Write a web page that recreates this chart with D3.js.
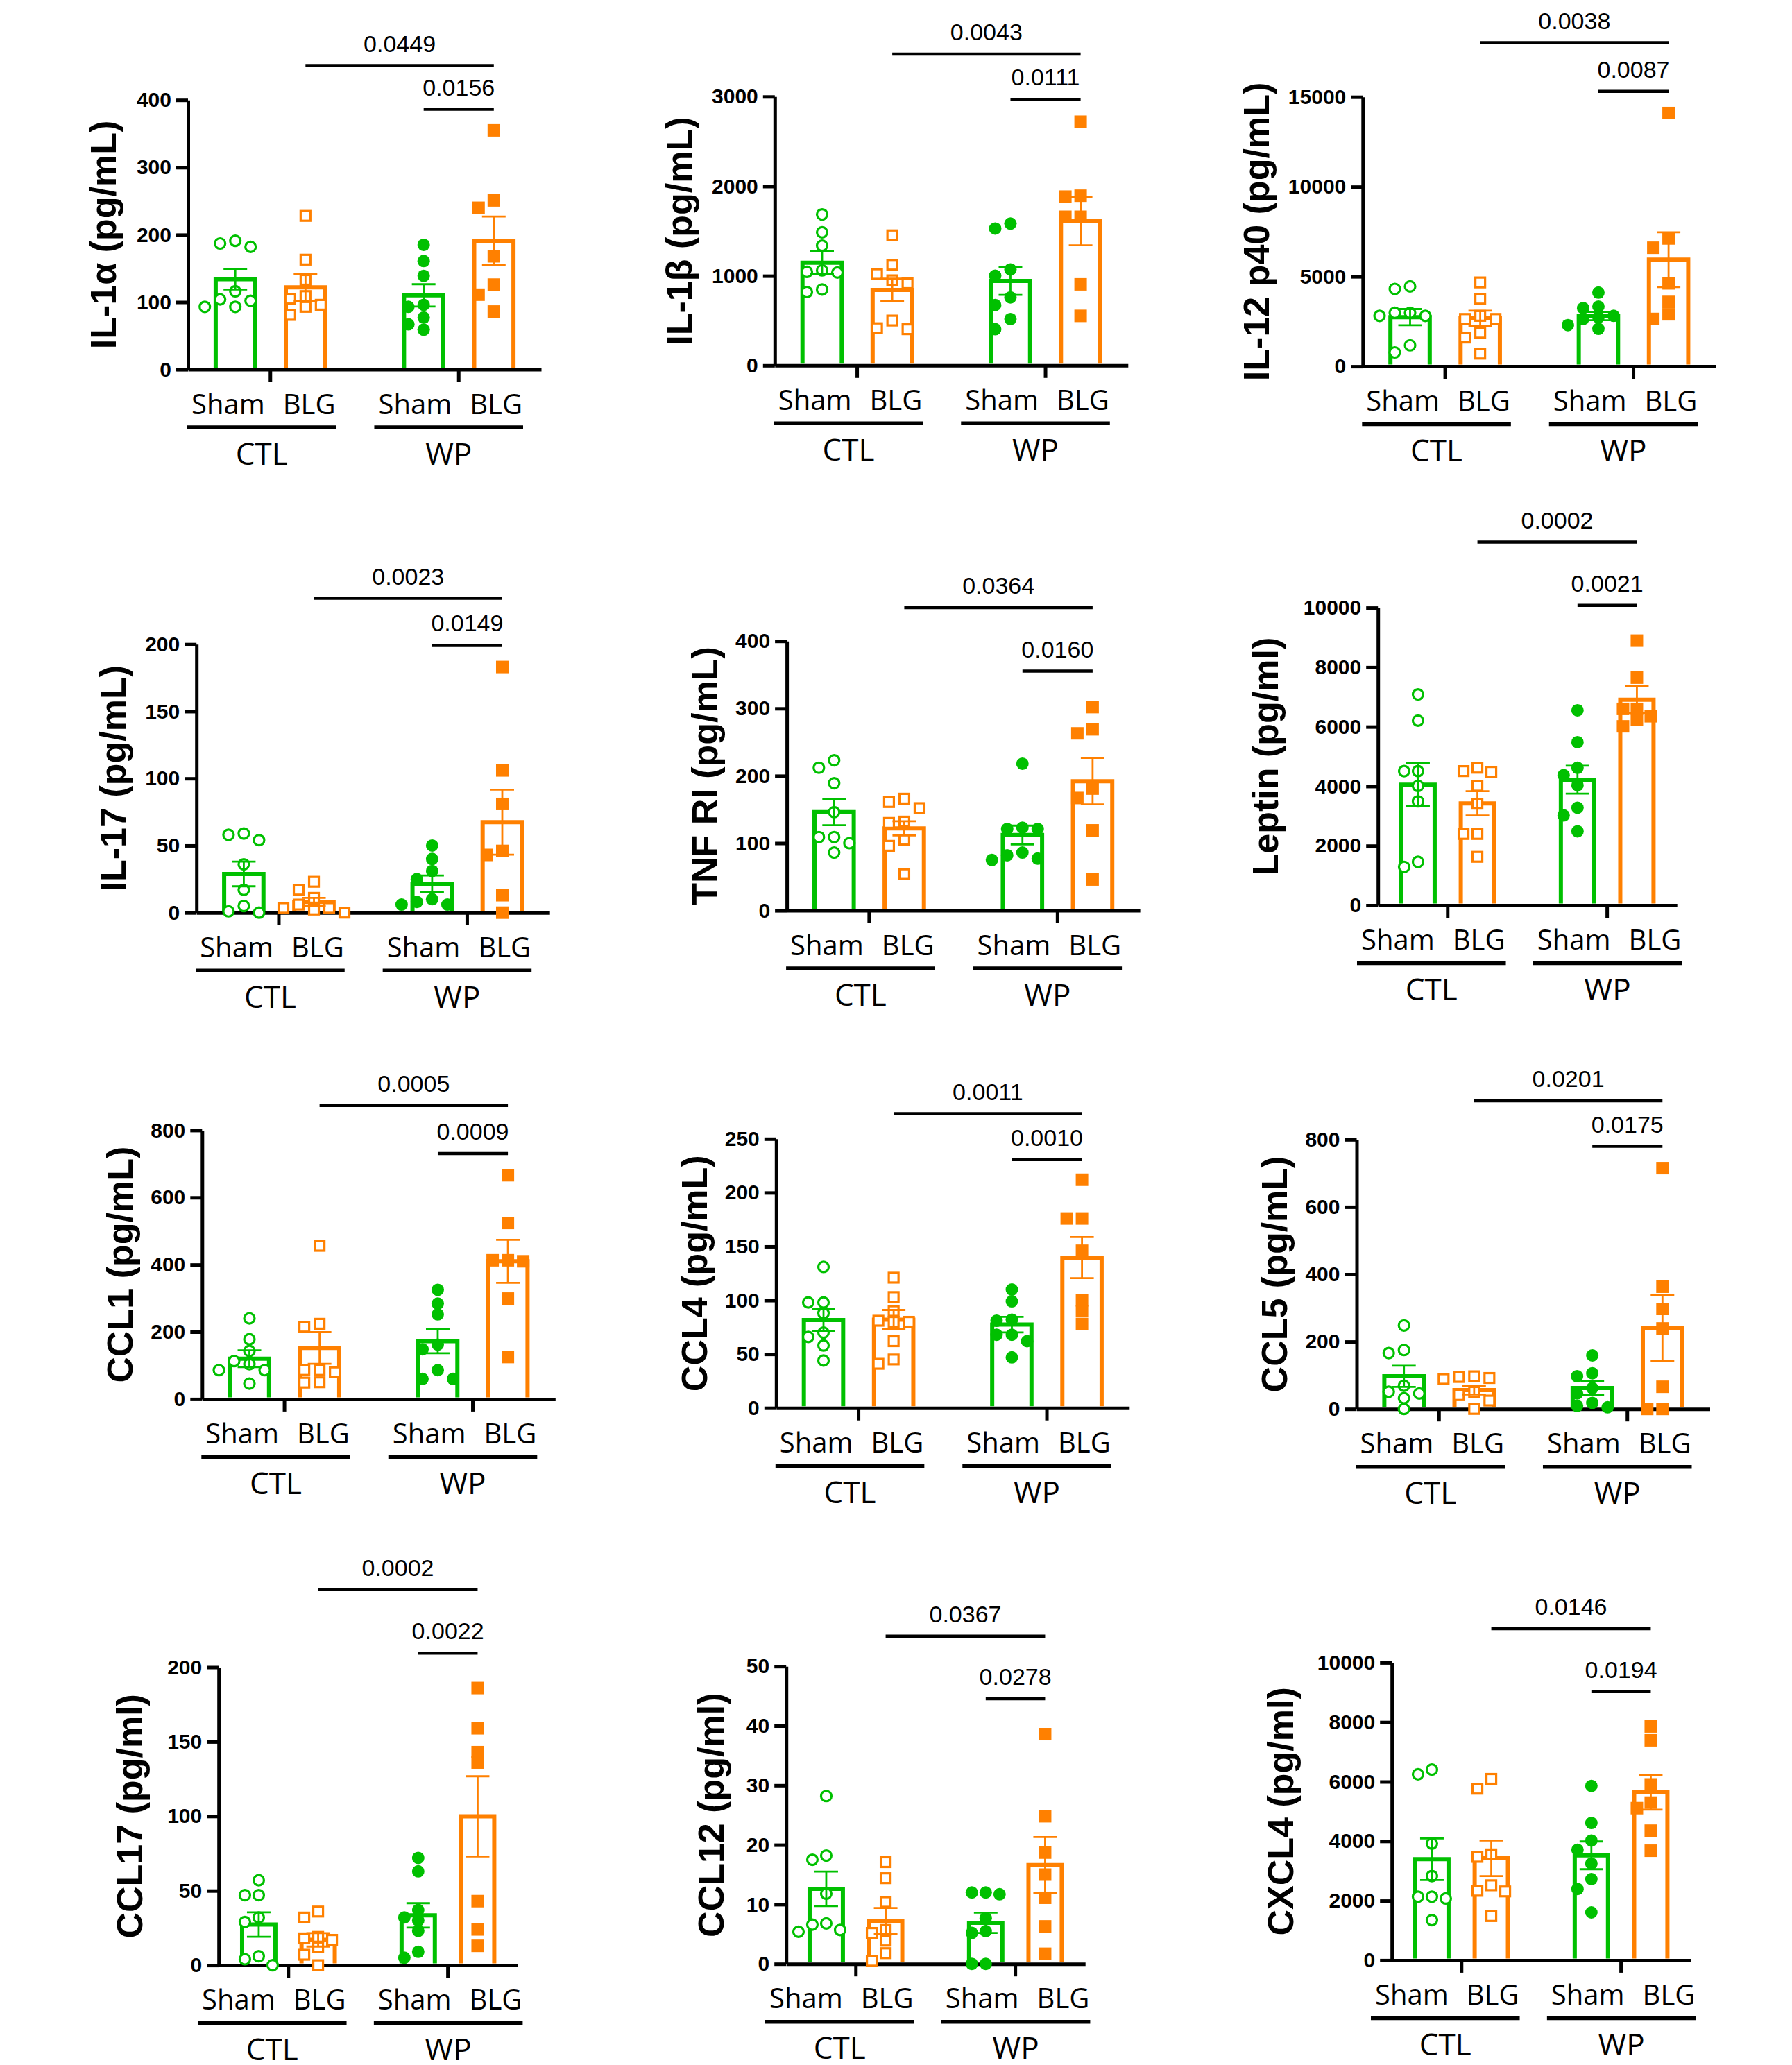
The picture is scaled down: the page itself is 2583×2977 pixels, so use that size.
<!DOCTYPE html>
<html>
<head>
<meta charset="utf-8">
<script src="https://cdn.jsdelivr.net/npm/d3@7"></script>
<style>
  body { margin: 0; background: #fff; }
</style>
</head>
<body>
<div id="chart"></div>
<script>
// ---- data ----
const titles = ["IL-1α (pg/mL)", "IL-1β (pg/mL)", "IL-12 p40 (pg/mL)",
  "IL-17 (pg/mL)", "TNF RI (pg/mL)", "Leptin (pg/ml)",
  "CCL1 (pg/mL)", "CCL4 (pg/mL)", "CCL5 (pg/mL)",
  "CCL17 (pg/ml)", "CCL12 (pg/ml)", "CXCL4 (pg/ml)"];

const yTicks = [
  [0, 100, 200, 300, 400], [0, 1000, 2000, 3000], [0, 5000, 10000, 15000],
  [0, 50, 100, 150, 200], [0, 100, 200, 300, 400], [0, 2000, 4000, 6000, 8000, 10000],
  [0, 200, 400, 600, 800], [0, 50, 100, 150, 200, 250], [0, 200, 400, 600, 800],
  [0, 50, 100, 150, 200], [0, 10, 20, 30, 40, 50], [0, 2000, 4000, 6000, 8000, 10000]];

const treatments = ["Sham", "BLG"];
const cohorts = ["CTL", "WP"];

// individual animals per panel
const shamCTL = [
  [182, 187, 191, 116, 104, 102, 93, 93],
  [1686, 1486, 1337, 1044, 1061, 1037, 819, 847],
  [4310, 4448, 2810, 2810, 2983, 2983, 1172, 776],
  [59, 54, 58, 36, 17, 5, 0, 1],
  [212, 223, 189, 146, 109, 109, 100, 86],
  [7085, 6204, 4509, 4509, 4011, 3492, 1288, 1458],
  [240, 178, 143, 113, 104, 86, 86, 46],
  [131, 98, 98, 88, 70, 66, 58, 44],
  [248, 166, 175, 51, 46, 69, 32, 0],
  [57, 47, 47, 32, 29, 6, 4, 0],
  [28.2, 18.2, 17.5, 11.8, 6.8, 6.6, 5.4, 5.7],
  [6249, 6404, 3917, 2829, 2135, 2073, 2135, 1347]];

const blgCTL = [
  [228, 163, 133, 109, 105, 96, 93, 81],
  [1452, 1123, 1020, 950, 916, 501, 404, 415],
  [4672, 3758, 2810, 2638, 2638, 1862, 1603, 707],
  [23, 17, 11, 6, 3.5, 2.3, 3.5, 0],
  [166, 152, 161, 132, 130, 105, 96, 54],
  [4622, 4509, 4486, 4011, 3413, 2396, 2396, 1627],
  [456, 224, 215, 86, 86, 49, 80, 50],
  [121, 103, 90, 80, 81, 80, 62, 41, 45],
  [97, 89, 95, 92, 51, 41, 25, 0],
  [36, 32, 17, 18, 19, 7, 0, 12],
  [17.1, 14.4, 10.4, 5.7, 5.2, 3.9, 1.8, 0.5],
  [6093, 5762, 3555, 3472, 2518, 2311, 2332, 1482]];

const shamWP = [
  [185, 161, 139, 96, 93, 77, 67, 59],
  [1583, 1528, 1071, 1002, 760, 674, 518, 404],
  [4103, 3327, 3241, 2724, 2810, 2293, 2638, 2086],
  [50, 40, 31, 25, 6, 10, 6, 8],
  [218, 121, 123, 121, 75, 86, 77, 82],
  [6554, 5481, 4622, 4373, 4034, 3277, 3017, 2486],
  [325, 284, 252, 162, 148, 86, 60, 60],
  [110, 99, 81, 82, 68, 68, 62, 47],
  [159, 97, 106, 62, 5, 18, 46, 9],
  [72, 63, 37, 32, 30, 23, 9, 5],
  [12, 11.7, 12, 7.7, 5.5, 5.2, 0, 0],
  [5855, 4612, 3710, 4021, 3244, 2725, 2394, 1606]];

const blgWP = [
  [355, 240, 251, 168, 126, 111, 86],
  [2720, 1884, 1894, 1659, 1659, 905, 553],
  [14102, 6603, 7120, 4620, 3586, 2638, 2896],
  [183, 106, 81, 43, 46, 13, 0],
  [302, 263, 269, 181, 167, 119, 46],
  [8893, 7650, 6600, 6600, 6351, 6012, 6238],
  [666, 524, 413, 413, 410, 299, 125],
  [212, 176, 176, 146, 100, 90, 78],
  [715, 363, 297, 239, 66, 0, 0],
  [186, 159, 143, 136, 43, 24, 13],
  [38.6, 24.8, 18.7, 15, 11.1, 6.3, 1.7],
  [7855, 7389, 5907, 5109, 5296, 4352, 3679]];

// bar heights (mean) and error bars (SEM): Sham CTL, BLG CTL, Sham WP, BLG WP
const barMean = [
  [134, 122, 110, 191], [1146, 842, 943, 1612], [2740, 2680, 2800, 5939],
  [28.8, 8, 21.6, 67.4], [146, 122, 112, 192], [4050, 3424, 4221, 6906],
  [120, 152, 172, 410], [81.7, 82, 77.4, 139.7], [97, 56, 62, 240],
  [27.3, 17, 33.4, 99.9], [12.6, 7.2, 6.9, 16.6], [3394, 3425, 3523, 5637]];
const barSEM = [
  [15.4, 20, 16.5, 36], [126, 126, 156, 271], [450, 420, 230, 1526],
  [9.2, 3, 6.1, 24.2], [19.3, 10.5, 14, 34.5], [718, 407, 469, 452],
  [25, 47, 35.5, 64], [10.1, 9, 7.2, 19.1], [31.3, 13, 20.7, 97.5],
  [8.2, 4.5, 8.2, 26.9], [2.9, 2.2, 1.7, 4.7], [700, 596, 466, 580]];

// p values: BLG CTL vs BLG WP, Sham WP vs BLG WP
const pAcross = ["0.0449", "0.0043", "0.0038", "0.0023", "0.0364", "0.0002",
  "0.0005", "0.0011", "0.0201", "0.0002", "0.0367", "0.0146"];
const pWithin = ["0.0156", "0.0111", "0.0087", "0.0149", "0.0160", "0.0021",
  "0.0009", "0.0010", "0.0175", "0.0022", "0.0278", "0.0194"];

// ---- layout of each panel (pixels) ----
const layout = [
  {x: 271.0, top: 144.2, bottom: 532.6, wide: true, brA: -49.6, brB: 13.4, title: 104},
  {x: 1116.8, top: 139.3, bottom: 526.8, wide: true, brA: -61.2, brB: 4, title: 120},
  {x: 1964.3, top: 139.7, bottom: 528.1, wide: true, brA: -78.1, brB: -8, title: 135},
  {x: 283.2, top: 928.7, bottom: 1315.7, wide: true, brA: -66.1, brB: 1.7, title: 102},
  {x: 1134.1, top: 924.2, bottom: 1312.6, wide: true, brA: -48.2, brB: 43.3, title: 100},
  {x: 1986.2, top: 876.1, bottom: 1305, wide: false, brA: -94.5, brB: -3.4, title: 144},
  {x: 291.3, top: 1629.4, bottom: 2016.9, wide: true, brA: -35.7, brB: 33.5, title: 100},
  {x: 1118.8, top: 1641.8, bottom: 2029.7, wide: true, brA: -36.2, brB: 29.9, title: 100},
  {x: 1955.5, top: 1642.8, bottom: 2031.2, wide: true, brA: -55.8, brB: 9.8, title: 101},
  {x: 315.2, top: 2403.5, bottom: 2833.1, wide: false, brA: -112, brB: -20.3, title: 110},
  {x: 1133.2, top: 2402.2, bottom: 2831.2, wide: false, brA: -43.5, brB: 46.7, title: 90},
  {x: 2006.2, top: 2396.9, bottom: 2825.9, wide: false, brA: -48.9, brB: 41.8, title: 142}];

// shift of the "Sham  BLG" label block from the group centre (CTL, WP)
const labelShift = {wide: [-10, -12], narrow: [-21, 3]};

const green = "#00c000", orange = "#ff8000";
const arial = "'Liberation Sans', Arial, sans-serif";
const sans = "'Open Sans', 'Noto Sans', sans-serif";

const svg = d3.select("#chart").append("svg")
  .attr("width", 2583)
  .attr("height", 2977)
  .style("background", "#fff");

// simple swarm: spread points that would overlap
function swarm(vals, y, step) {
  const pts = vals.map(v => ({v: v, py: y(v), dx: 0}));
  const placed = [];
  pts.slice().sort((a, b) => b.v - a.v).forEach(p => {
    for (let k = 0; k < 9; k++) {
      const off = k === 0 ? 0 : (k % 2 ? -1 : 1) * Math.ceil(k / 2) * step;
      const free = placed.every(q => Math.abs(q.dx - off) >= step * 0.9 || Math.abs(q.py - p.py) >= 15);
      if (free) { p.dx = off; break; }
    }
    placed.push(p);
  });
  return pts;
}

layout.forEach((L, i) => {
  const w = L.wide ? 509 : 431;
  const step = L.wide ? 22 : 20;
  const shifts = L.wide ? labelShift.wide : labelShift.narrow;
  const g = svg.append("g").attr("transform", "translate(" + L.x + ",0)");

  const y = d3.scaleLinear().domain([0, d3.max(yTicks[i])]).range([L.bottom, L.top]);
  const x0 = d3.scaleBand().domain(cohorts).range([0, w]).paddingInner(0.255).paddingOuter(0.065);
  const x1 = d3.scaleBand().domain(treatments).range([0, x0.bandwidth()]);
  const cx = (c, t) => x0(c) + x1(t) + x1.bandwidth() / 2;
  const bw = x1.bandwidth() * 0.56;

  // Y axis
  const yAx = g.append("g")
    .call(d3.axisLeft(y).tickValues(yTicks[i]).tickFormat(d3.format("d"))
      .tickSize(17).tickSizeOuter(0).tickPadding(7));
  yAx.attr("font-size", 30).attr("font-family", arial).attr("font-weight", "bold");
  yAx.select(".domain").attr("stroke-width", 5);
  yAx.selectAll(".tick line").attr("stroke-width", 5);
  yAx.selectAll(".tick text").attr("fill", "#000");

  // X axis with group ticks
  const xAx = g.append("g")
    .attr("transform", "translate(0," + L.bottom + ")")
    .call(d3.axisBottom(x0).tickSize(18).tickSizeOuter(0).tickFormat(""));
  xAx.select(".domain").attr("stroke-width", 5);
  xAx.selectAll(".tick line").attr("stroke-width", 5);

  const series = [
    {c: "CTL", t: "Sham", vals: shamCTL[i], color: green, shape: "circle", open: true},
    {c: "CTL", t: "BLG", vals: blgCTL[i], color: orange, shape: "square", open: true},
    {c: "WP", t: "Sham", vals: shamWP[i], color: green, shape: "circle", open: false},
    {c: "WP", t: "BLG", vals: blgWP[i], color: orange, shape: "square", open: false}];

  // bars (open at the bottom, sitting on the axis)
  g.append("g").selectAll("path")
    .data(series)
    .join("path")
      .attr("d", (s, k) => {
        const c = cx(s.c, s.t), top = y(barMean[i][k]), b = L.bottom - 2.5;
        return "M" + (c - bw / 2) + "," + b + "V" + top + "H" + (c + bw / 2) + "V" + b;
      })
      .attr("fill", "none")
      .attr("stroke", s => s.color)
      .attr("stroke-width", 6);

  // individual points
  series.forEach(s => {
    const c = cx(s.c, s.t);
    const pts = swarm(s.vals, y, step);
    const layer = g.append("g");
    if (s.shape === "circle") {
      layer.selectAll("circle").data(pts).join("circle")
        .attr("cx", p => c + p.dx)
        .attr("cy", p => p.py)
        .attr("r", s.open ? 7.5 : 9)
        .attr("fill", s.open ? "#fff" : s.color)
        .attr("stroke", s.open ? s.color : "none")
        .attr("stroke-width", 3.2);
    } else {
      const side = s.open ? 14 : 18;
      layer.selectAll("rect").data(pts).join("rect")
        .attr("x", p => c + p.dx - side / 2)
        .attr("y", p => p.py - side / 2)
        .attr("width", side)
        .attr("height", side)
        .attr("fill", s.open ? "#fff" : s.color)
        .attr("stroke", s.open ? s.color : "none")
        .attr("stroke-width", 3.2);
    }
  });

  // mean +/- SEM
  g.append("g").selectAll("path")
    .data(series)
    .join("path")
      .attr("d", (s, k) => {
        const c = cx(s.c, s.t);
        const hi = y(barMean[i][k] + barSEM[i][k]), lo = y(barMean[i][k] - barSEM[i][k]);
        return "M" + c + "," + lo + "V" + hi +
          "M" + (c - 17) + "," + hi + "H" + (c + 17) +
          "M" + (c - 17) + "," + lo + "H" + (c + 17);
      })
      .attr("fill", "none")
      .attr("stroke", s => s.color)
      .attr("stroke-width", 2.8);

  // category labels under the axis
  cohorts.forEach((co, ci) => {
    const yb = L.bottom + 64;
    const tS = g.append("text")
      .attr("y", yb)
      .attr("font-family", sans).attr("font-size", 40)
      .text(treatments[0]);
    const tB = g.append("text")
      .attr("y", yb)
      .attr("font-family", sans).attr("font-size", 40)
      .text(treatments[1]);
    const lenS = tS.node().getComputedTextLength();
    const lenB = tB.node().getComputedTextLength();
    const gap = 26;
    const mid = x0(co) + x0.bandwidth() / 2 + shifts[ci];
    const start = mid - (lenS + gap + lenB) / 2;
    tS.attr("x", start);
    tB.attr("x", start + lenS + gap);
    const l0 = start - 6, l1 = start + lenS + gap + lenB + 1;
    g.append("line")
      .attr("x1", l0).attr("x2", l1)
      .attr("y1", L.bottom + 83.5).attr("y2", L.bottom + 83.5)
      .attr("stroke", "#000").attr("stroke-width", 5.5);
    g.append("text")
      .attr("x", (l0 + l1) / 2).attr("y", L.bottom + 137)
      .attr("text-anchor", "middle")
      .attr("font-family", sans).attr("font-size", 44)
      .text(co);
  });

  // significance brackets
  const brackets = [
    {a: cx("CTL", "BLG"), b: cx("WP", "BLG"), yy: L.top + L.brA, p: pAcross[i]},
    {a: cx("WP", "Sham"), b: cx("WP", "BLG"), yy: L.top + L.brB, p: pWithin[i]}];
  brackets.forEach(br => {
    g.append("line")
      .attr("x1", br.a).attr("x2", br.b)
      .attr("y1", br.yy).attr("y2", br.yy)
      .attr("stroke", "#000").attr("stroke-width", 4.5);
    g.append("text")
      .attr("x", (br.a + br.b) / 2).attr("y", br.yy - 20)
      .attr("text-anchor", "middle")
      .attr("font-family", arial).attr("font-size", 34)
      .text(br.p);
  });

  // y axis title
  g.append("text")
    .attr("transform", "translate(" + (-L.title) + "," + ((L.top + L.bottom) / 2) + ") rotate(-90)")
    .attr("text-anchor", "middle")
    .attr("font-family", arial).attr("font-weight", "bold").attr("font-size", 52)
    .text(titles[i]);
});
</script>
</body>
</html>
